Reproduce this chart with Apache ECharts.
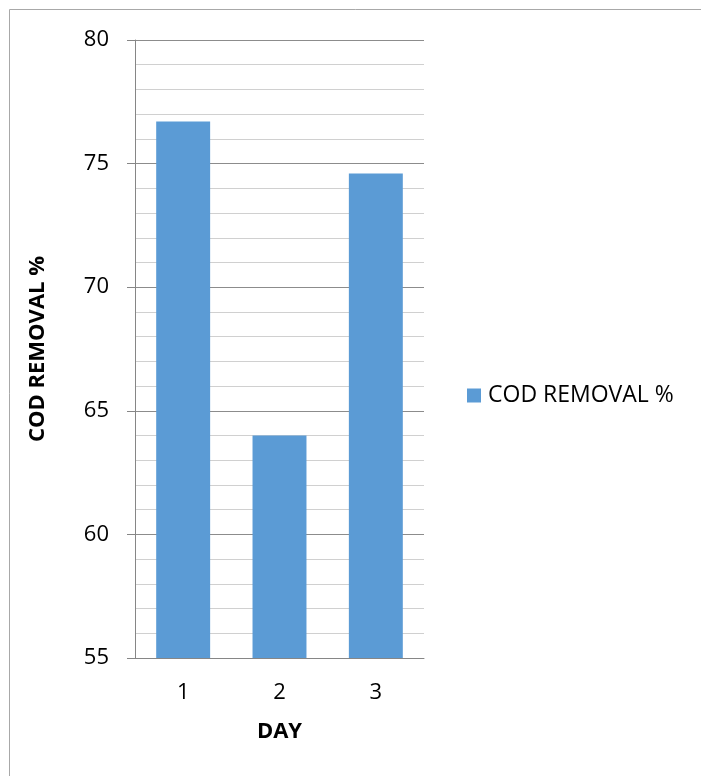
<!DOCTYPE html>
<html>
<head>
<meta charset="utf-8">
<script src="https://cdn.jsdelivr.net/npm/echarts@6/dist/echarts.min.js"></script>
<style>
  html, body { margin: 0; padding: 0; background: #fff; }
  #chart { width: 701px; height: 776px; }
</style>
</head>
<body>
<div id="chart"></div>
<script>
// Daily COD removal efficiency
const days = ['1', '2', '3'];
const codRemoval = [76.7, 64.0, 74.6];
const seriesName = 'COD REMOVAL %';
const yTitle = 'COD REMOVAL %';
const xTitle = 'DAY';

const FONT = '"Open Sans", "Noto Sans", sans-serif';
const chart = echarts.init(document.getElementById('chart'), null, { renderer: 'canvas' });

chart.setOption({
  animation: false,
  backgroundColor: '#ffffff',
  textStyle: { fontFamily: FONT, color: '#000' },
  graphic: [{
    type: 'rect',
    shape: { x: 9.5, y: 9.5, width: 760, height: 820 },
    style: { fill: 'none', stroke: '#a8a8a8', lineWidth: 1 },
    silent: true
  }],
  grid: { left: 135, right: 277, top: 40, bottom: 118 },
  legend: {
    left: 462, top: 379,
    icon: 'rect', itemWidth: 14, itemHeight: 14, itemGap: 8,
    textStyle: { fontSize: 23, fontFamily: FONT, color: '#000', padding: [0, 0, 0, 2] },
    data: [seriesName]
  },
  xAxis: {
    type: 'category',
    data: days,
    name: xTitle,
    nameLocation: 'middle',
    nameGap: 63,
    nameTextStyle: { fontSize: 22, fontWeight: 'bold', color: '#000', fontFamily: FONT },
    axisLine: { lineStyle: { color: '#868686', width: 1 } },
    axisTick: { show: false },
    axisLabel: { fontSize: 22, color: '#000', margin: 24, fontFamily: FONT }
  },
  yAxis: {
    type: 'value',
    min: 55, max: 80, interval: 5,
    name: yTitle,
    nameLocation: 'middle',
    nameRotate: 90,
    nameGap: 86,
    nameTextStyle: { fontSize: 22, fontWeight: 'bold', color: '#000', fontFamily: FONT },
    axisLine: { show: true, lineStyle: { color: '#868686', width: 1 } },
    axisTick: { show: true, length: 8, lineStyle: { color: '#868686' } },
    axisLabel: { fontSize: 22, color: '#000', margin: 26, fontFamily: FONT },
    splitLine: { show: true, lineStyle: { color: '#8c8c8c', width: 1 } },
    minorTick: { show: false, splitNumber: 5 },
    minorSplitLine: { show: true, lineStyle: { color: '#d0d0d0', width: 1 } }
  },
  series: [{
    name: seriesName,
    type: 'bar',
    data: codRemoval,
    barWidth: '56%',
    itemStyle: { color: '#5b9bd5' }
  }]
});
</script>
</body>
</html>
